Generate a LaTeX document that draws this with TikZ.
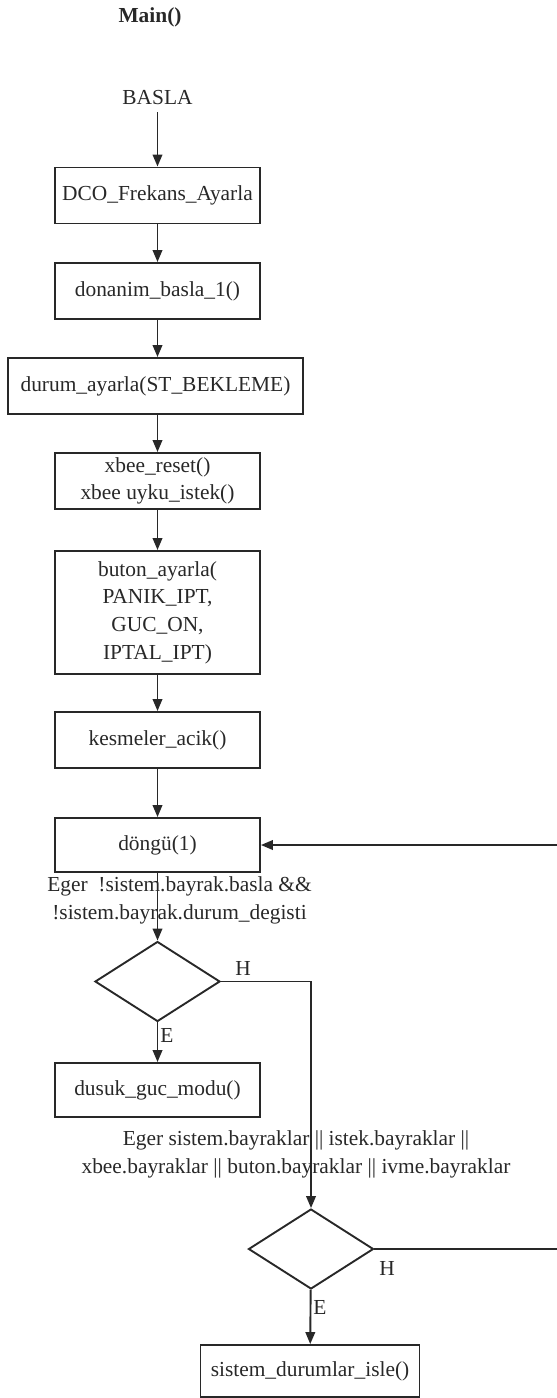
\documentclass[tikz,border=0pt]{standalone}
\usepackage{fontspec}
\setmainfont{Liberation Serif}
\usetikzlibrary{arrows.meta,shapes.geometric}
\definecolor{ink}{RGB}{40,40,40}
\newcommand\chartfont{\fontsize{10.7}{13.85}\selectfont}
\begin{document}
\begin{tikzpicture}[x=0.5pt,y=-0.5pt,
  every node/.style={font=\chartfont, text=ink},
  proc/.style={draw=ink, line width=0.95pt, minimum width=102.5pt,
    minimum height=28pt, inner sep=2pt, align=center},
  decision/.style={diamond, draw=ink, line width=0.95pt, minimum width=62.5pt,
    minimum height=40pt, inner sep=0pt},
  flow/.style={draw=ink, line width=0.95pt, -{Triangle[width=4.8pt,length=6pt]}},
  tag/.style={inner sep=1pt},
]
\useasboundingbox (0,0) rectangle (557,1398);

% title and start
\node[font=\chartfont\bfseries] (main) at (150,17) {Main()};
\node (basla) at (157.5,98) {BASLA};

% sequential steps
\node[proc] (dco)   at (157.5,195.5) {DCO\_Frekans\_Ayarla};
\node[proc] (don)   at (157.5,291)   {donanim\_basla\_1()};
\node[proc, minimum width=147.5pt] (durum) at (155.5,386) {durum\_ayarla(ST\_BEKLEME)};
\node[proc] (xbee)  at (157.5,481)   {xbee\_reset()\\xbee uyku\_istek()};
\node[proc, minimum height=61.5pt] (buton) at (157.5,612.5)
  {buton\_ayarla(\\PANIK\_IPT,\\GUC\_ON,\\IPTAL\_IPT)};
\node[proc] (kes)   at (157.5,740)   {kesmeler\_acik()};
\node[proc, minimum height=27pt] (dongu) at (157.5,845) {döngü(1)};

% first decision
\node[align=center, inner sep=0pt] (c1) at (179.5,900.5)
  {Eger~ !sistem.bayrak.basla \&\&\\!sistem.bayrak.durum\_degisti};
\node[decision] (d1) at (157.5,981.5) {};
\node[proc, minimum height=27pt] (dusuk) at (157.5,1090) {dusuk\_guc\_modu()};
\node[tag] (h1) at (243,968) {H};
\node[tag] (e1) at (167,1035) {E};

% second decision
\node[align=center, inner sep=0pt] (c2) at (296,1154.5)
  {Eger sistem.bayraklar || istek.bayraklar ||\\xbee.bayraklar || buton.bayraklar || ivme.bayraklar};
\node[decision] (d2) at (311,1249) {};
\node[tag] (h2) at (387,1268) {H};
\node[tag] (e2) at (320,1307) {E};
\node[proc, minimum width=109.5pt, minimum height=26pt] (sis) at (310,1371) {sistem\_durumlar\_isle()};

% loop return column, beyond the right edge
\coordinate (ret) at (570,1249);

% connectors
\draw[flow] (basla.south) -- (dco.north);
\draw[flow] (dco) -- (don);
\draw[flow] (don) -- (durum.north -| don.south);
\draw[flow] (durum.south -| don.south) -- (xbee.north);
\draw[flow] (xbee) -- (buton);
\draw[flow] (buton) -- (kes);
\draw[flow] (kes) -- (dongu);
\draw[flow] (dongu) -- (d1);
\draw[flow] (d1) -- (dusuk);
\draw[flow] (d1.east) -| (d2.north);
\draw[flow] (d2) -- (sis);
\draw[flow] (d2.east) -- (ret) |- (dongu.east);
\end{tikzpicture}
\end{document}
